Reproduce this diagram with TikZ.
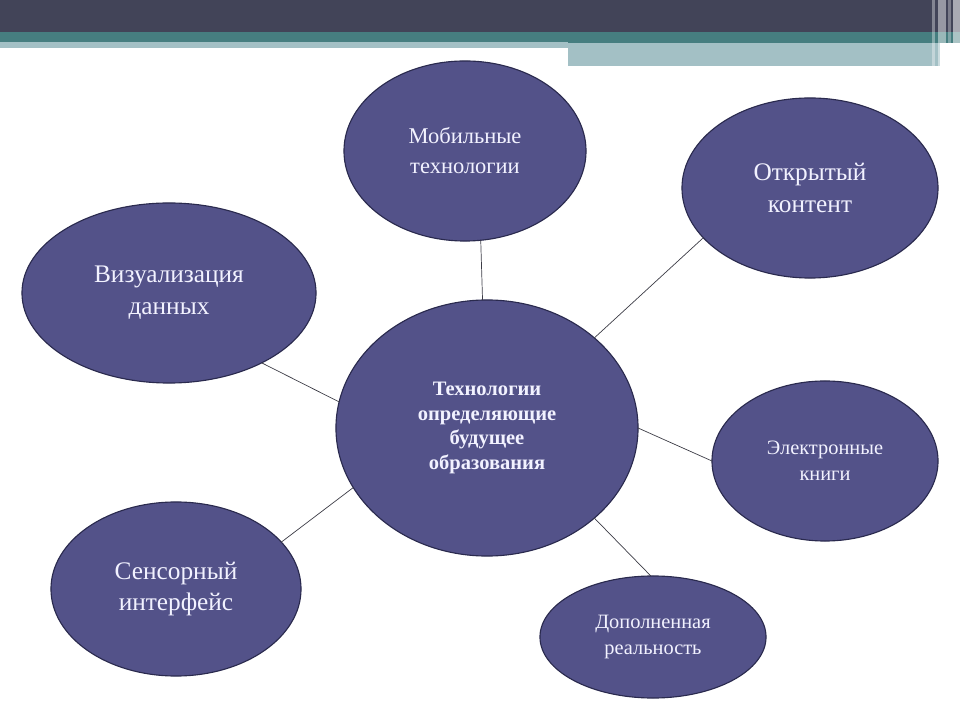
\documentclass[tikz,border=0pt]{standalone}
\usepackage{fontspec}
\setmainfont{Liberation Serif}
\usetikzlibrary{shapes.geometric}
\definecolor{barDark}{RGB}{66,68,88}
\definecolor{barTeal}{RGB}{70,126,128}
\definecolor{barLight}{RGB}{163,192,197}
\definecolor{ovalFill}{RGB}{83,82,137}
\definecolor{ovalEdge}{RGB}{42,42,78}
\definecolor{ovalText}{RGB}{242,242,255}
\definecolor{linkGray}{RGB}{60,60,70}

\begin{document}
\begin{tikzpicture}[x=0.025cm,y=-0.025cm,
			oval/.style={ellipse,draw=ovalEdge,fill=ovalFill,line width=0.8pt,
				inner sep=0pt,outer sep=0pt,align=center,text=ovalText},
			bigtxt/.style={font=\fontsize{18}{22.7}\selectfont},
			midtxt/.style={font=\fontsize{16}{21.3}\selectfont},
			smalltxt/.style={font=\fontsize{14.5}{18.4}\selectfont},
			hubtxt/.style={font=\bfseries\fontsize{14.6}{17.7}\selectfont},
			link/.style={draw=linkGray,line width=0.5pt}]
			
			\useasboundingbox (0,0) rectangle (960,720);
			
			% Top bar
			\fill[barDark] (0,0) rectangle (960,32);
			\fill[barTeal] (0,32) rectangle (960,43);
			\fill[barLight] (0,42) rectangle (568,48);
			\fill[barLight] (568,43) rectangle (940,66);
			\foreach \sx/\sw/\op in {932/3/0.35, 938/8/0.45, 948/3/0.3, 953/7/0.55} {
				\fill[white,opacity=\op] (\sx,0) rectangle (\sx+\sw,66);
			}
			
			% The ovals
			\node[oval,hubtxt,minimum width=7.55cm,minimum height=6.4cm] (hub) at (487,428)
			{Технологии\\определяющие\\будущее\\образования};
			\node[oval,midtxt,minimum width=6.05cm,minimum height=4.5cm] (mob) at (465,151)
			{Мобильные\\технологии};
			\node[oval,bigtxt,minimum width=6.4cm,minimum height=4.5cm] (open) at (810,188)
			{Открытый\\контент};
			\node[oval,bigtxt,minimum width=7.35cm,minimum height=4.5cm] (vis) at (169,293)
			{Визуализация\\данных};
			\node[oval,smalltxt,minimum width=5.65cm,minimum height=4.0cm] (ebook) at (825,461)
			{Электронные\\книги};
			\node[oval,bigtxt,minimum width=6.25cm,minimum height=4.35cm] (sens) at (176,589)
			{Сенсорный\\интерфейс};
			\node[oval,smalltxt,minimum width=5.65cm,minimum height=3.05cm] (aug) at (653,637)
			{Дополненная\\реальность};
			
			% Links from the hub
			\draw[link] (hub.92.7) -- (mob.-80);
			\draw[link] (hub.40.4) -- (open.205);
			\draw[link] (hub.170) -- (vis.-37);
			\draw[link] (hub.0) -- (ebook.180.5);
			\draw[link] (hub.204.5) -- (sens.24);
			\draw[link] (hub.-40.4) -- (aug.92);
			
		\end{tikzpicture}
\end{document}
